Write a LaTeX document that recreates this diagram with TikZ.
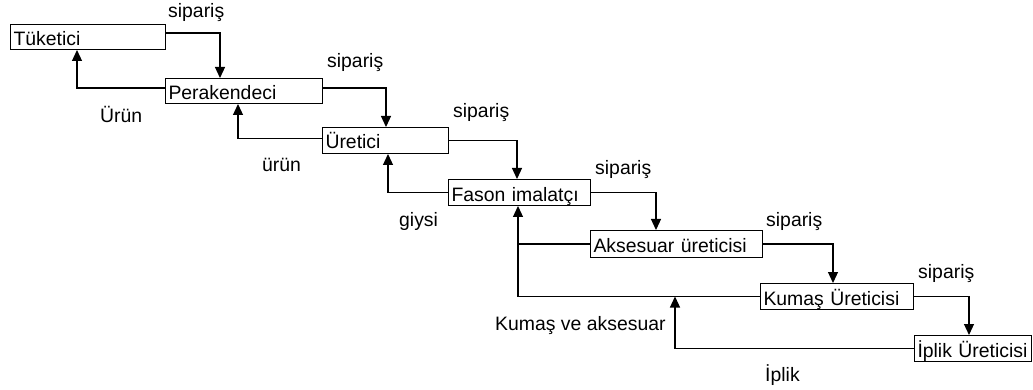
\documentclass[tikz,border=0pt]{standalone}
\usepackage{fontspec}
\setmainfont{Liberation Sans}
\usetikzlibrary{arrows.meta}
\tikzset{
  box/.style={draw, line width=1pt, anchor=north west, inner xsep=3pt, inner ysep=0pt,
    minimum height=#1, text height=19pt, text depth=2pt, align=left,
    font=\fontsize{19.4}{22}\selectfont},
  ln/.style={line width=1.2pt},
  arr/.style={line width=1.2pt, -{Triangle[length=11pt,width=10pt]}},
  lbl/.style={anchor=base west, inner sep=0pt, font=\fontsize{19.4}{22}\selectfont}
}
\begin{document}
\begin{tikzpicture}[x=1pt,y=-1pt]
\useasboundingbox (0,0) rectangle (1033,390);
% boxes
\node[box=25pt, text width=149pt] (tuk) at (10,24) {Tüketici};
\node[box=25pt, text width=151pt] (per) at (165,78) {Perakendeci};
\node[box=26pt, text width=120pt] (ure) at (322,127) {Üretici};
\node[box=26pt, text width=136pt] (fas) at (448,179) {Fason imalatçı};
\node[box=27pt, text width=166pt] (aks) at (590,230) {Aksesuar üreticisi};
\node[box=26pt, text width=147pt] (kum) at (760,283) {Kumaş Üreticisi};
\node[box=26pt, text width=111pt] (ipl) at (914,335) {\mbox{İplik Üreticisi}};
% order arrows
\draw[arr] ([yshift=4pt]tuk.east) -| ([xshift=55pt]per.north west);
\draw[arr] ([yshift=3pt]per.east) -| ([xshift=64pt]ure.north west);
\draw[arr] (ure.east) -| ([xshift=69pt]fas.north west);
\draw[arr] (fas.east) -| ([xshift=66pt]aks.north west);
\draw[arr] (aks.east) -| ([xshift=73pt]kum.north west);
\draw[arr] (kum.east) -| ([xshift=55pt]ipl.north west);
% product arrows
\draw[arr] ([yshift=3pt]per.west) -| ([xshift=67pt]tuk.south west);
\draw[arr] ([yshift=2pt]ure.west) -| ([xshift=73pt]per.south west);
\draw[arr] (fas.west) -| ([xshift=66pt]ure.south west);
\coordinate (fj) at ([xshift=70pt]fas.south west);
\draw[arr] (kum.west) -| (fj);
\draw[ln] (aks.west) -- (aks.west -| fj);
\coordinate (kj) at (675,0);
\draw[arr] (ipl.west) -| (kum.west -| kj);
% labels
\node[lbl] (s1) at (168,18) {sipariş};
\node[lbl] (s2) at (327,68) {sipariş};
\node[lbl] (s3) at (453,118) {sipariş};
\node[lbl] (s4) at (595,175) {sipariş};
\node[lbl] (s5) at (766,226) {sipariş};
\node[lbl] (s6) at (918,278) {sipariş};
\node[lbl] (l1) at (100,123) {Ürün};
\node[lbl] (l2) at (262,172) {ürün};
\node[lbl] (l3) at (399,226) {giysi};
\node[lbl] (l4) at (495,330) {Kumaş ve aksesuar};
\node[lbl] (l5) at (765,381) {İplik};
\end{tikzpicture}
\end{document}
